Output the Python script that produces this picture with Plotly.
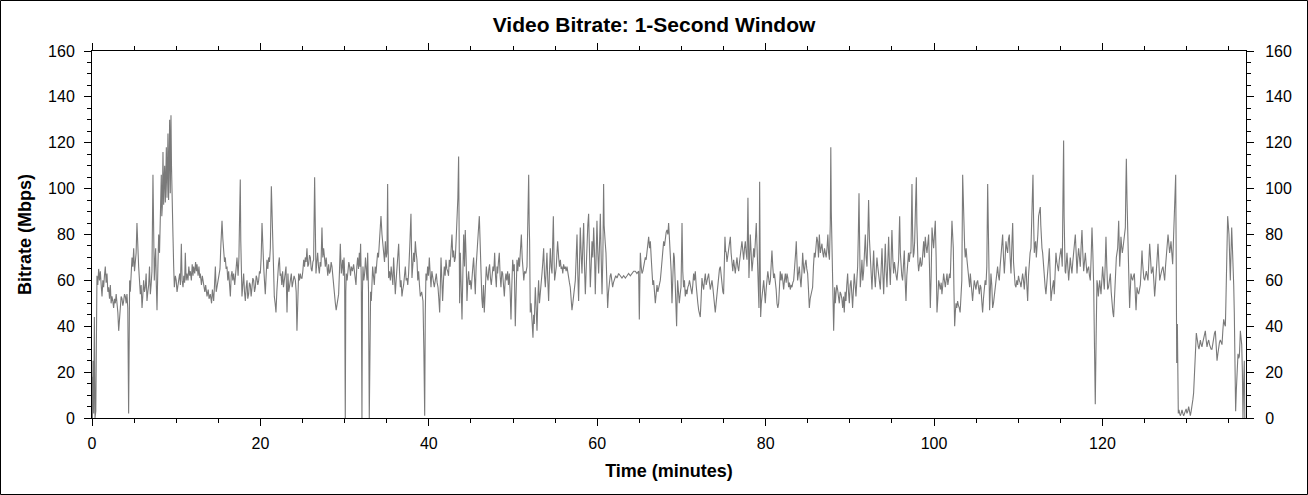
import plotly.graph_objects as go

# ---- data (minutes, Mbps) ----
time_min = [
    0.0, 0.05, 0.12, 0.2, 0.28, 0.36, 0.45, 0.52, 0.59, 0.69, 0.79, 0.89, 0.99, 1.09, 1.19, 1.29, 1.38, 1.48, 1.58, 1.68,
    1.78, 1.88, 1.98, 2.08, 2.18, 2.27, 2.37, 2.47, 2.57, 2.67, 2.77, 2.87, 2.97, 3.07, 3.17, 3.27, 3.36, 3.46, 3.56, 3.66,
    3.76, 3.86, 3.96, 4.06, 4.15, 4.25, 4.35, 4.41, 4.47, 4.55, 4.63, 4.75, 4.85, 4.95, 5.05, 5.14, 5.24, 5.34, 5.44, 5.54,
    5.64, 5.74, 5.84, 5.94, 6.03, 6.13, 6.23, 6.33, 6.43, 6.53, 6.63, 6.73, 6.83, 6.93, 7.02, 7.12, 7.24, 7.32, 7.4, 7.48,
    7.56, 7.64, 7.72, 7.82, 7.92, 8.02, 8.11, 8.17, 8.23, 8.29, 8.35, 8.43, 8.51, 8.57, 8.63, 8.71, 8.77, 8.83, 8.91, 8.96,
    9.02, 9.1, 9.16, 9.22, 9.3, 9.38, 9.44, 9.5, 9.56, 9.62, 9.7, 9.78, 9.9, 10.0, 10.1, 10.2, 10.3, 10.41, 10.5, 10.61,
    10.7, 10.81, 10.9, 11.0, 11.08, 11.18, 11.28, 11.4, 11.5, 11.6, 11.68, 11.8, 11.9, 12.0, 12.07, 12.2, 12.3, 12.4, 12.47, 12.6,
    12.7, 12.8, 12.86, 13.0, 13.1, 13.26, 13.4, 13.5, 13.66, 13.8, 13.9, 14.05, 14.2, 14.3, 14.45, 14.55, 14.65, 14.75, 14.84, 14.95,
    15.04, 15.2, 15.3, 15.44, 15.54, 15.64, 15.74, 15.83, 15.93, 16.03, 16.13, 16.23, 16.33, 16.43, 16.53, 16.63, 16.72, 16.82, 16.95, 17.1,
    17.22, 17.35, 17.45, 17.52, 17.61, 17.67, 17.81, 17.91, 18.01, 18.11, 18.21, 18.31, 18.41, 18.5, 18.6, 18.7, 18.8, 18.9, 19.0, 19.1,
    19.2, 19.3, 19.4, 19.5, 19.59, 19.69, 19.79, 19.89, 19.99, 20.09, 20.19, 20.29, 20.39, 20.48, 20.58, 20.68, 20.78, 20.88, 20.98, 21.08,
    21.18, 21.3, 21.45, 21.55, 21.65, 21.75, 21.85, 21.95, 22.05, 22.15, 22.25, 22.35, 22.44, 22.54, 22.64, 22.74, 22.84, 22.94, 23.04, 23.16,
    23.27, 23.37, 23.47, 23.57, 23.67, 23.77, 23.87, 24.0, 24.15, 24.25, 24.34, 24.44, 24.54, 24.64, 24.74, 24.84, 24.94, 25.04, 25.14, 25.24,
    25.33, 25.43, 25.53, 25.63, 25.73, 25.83, 25.93, 26.03, 26.13, 26.23, 26.32, 26.44, 26.52, 26.6, 26.7, 26.8, 26.9, 27.0, 27.1, 27.19,
    27.31, 27.41, 27.51, 27.61, 27.71, 27.81, 27.91, 28.0, 28.1, 28.2, 28.3, 28.4, 28.5, 28.6, 28.7, 28.8, 28.9, 29.0, 29.09, 29.19,
    29.29, 29.39, 29.49, 29.61, 29.69, 29.77, 29.85, 29.93, 30.0, 30.08, 30.14, 30.2, 30.3, 30.4, 30.5, 30.6, 30.7, 30.8, 30.93, 31.07,
    31.2, 31.35, 31.45, 31.55, 31.65, 31.75, 31.82, 31.9, 31.98, 32.06, 32.12, 32.18, 32.28, 32.38, 32.48, 32.58, 32.66, 32.74, 32.84, 32.93,
    33.01, 33.09, 33.17, 33.25, 33.33, 33.43, 33.53, 33.63, 33.73, 33.83, 33.92, 34.02, 34.12, 34.22, 34.32, 34.44, 34.54, 34.64, 34.74, 34.84,
    34.94, 35.03, 35.11, 35.17, 35.23, 35.33, 35.43, 35.53, 35.63, 35.73, 35.82, 35.92, 36.02, 36.12, 36.22, 36.32, 36.42, 36.52, 36.62, 36.71,
    36.81, 36.91, 37.01, 37.11, 37.21, 37.31, 37.41, 37.5, 37.6, 37.74, 37.88, 38.0, 38.1, 38.2, 38.3, 38.4, 38.5, 38.59, 38.69, 38.79,
    38.89, 38.99, 39.15, 39.31, 39.41, 39.51, 39.58, 39.66, 39.76, 39.86, 39.96, 40.06, 40.16, 40.26, 40.36, 40.46, 40.56, 40.65, 40.77, 40.89,
    40.99, 41.09, 41.19, 41.29, 41.37, 41.45, 41.55, 41.64, 41.74, 41.84, 41.94, 42.04, 42.14, 42.24, 42.34, 42.43, 42.53, 42.63, 42.75, 42.85,
    42.95, 43.05, 43.15, 43.25, 43.35, 43.45, 43.54, 43.6, 43.66, 43.74, 43.82, 43.94, 44.04, 44.14, 44.24, 44.33, 44.43, 44.53, 44.63, 44.73,
    44.83, 44.93, 45.03, 45.13, 45.23, 45.32, 45.42, 45.52, 45.62, 45.72, 45.86, 46.0, 46.1, 46.2, 46.3, 46.39, 46.49, 46.59, 46.71, 46.83,
    46.93, 47.03, 47.13, 47.22, 47.32, 47.42, 47.52, 47.62, 47.72, 47.82, 47.92, 48.02, 48.1, 48.17, 48.27, 48.37, 48.47, 48.57, 48.67, 48.77,
    48.87, 48.97, 49.07, 49.16, 49.26, 49.36, 49.46, 49.56, 49.66, 49.76, 49.86, 49.96, 50.06, 50.15, 50.27, 50.37, 50.47, 50.57, 50.67, 50.77,
    50.87, 50.99, 51.09, 51.18, 51.28, 51.38, 51.52, 51.66, 51.76, 51.86, 51.92, 51.97, 52.05, 52.15, 52.25, 52.37, 52.45, 52.53, 52.59, 52.65,
    52.75, 52.85, 52.95, 53.04, 53.14, 53.24, 53.34, 53.44, 53.54, 53.64, 53.74, 53.84, 53.94, 54.03, 54.13, 54.23, 54.33, 54.43, 54.53, 54.63,
    54.71, 54.79, 54.87, 54.94, 55.04, 55.14, 55.22, 55.3, 55.42, 55.52, 55.62, 55.72, 55.81, 55.91, 56.01, 56.11, 56.21, 56.31, 56.41, 56.51,
    56.61, 56.7, 56.8, 56.9, 57.0, 57.1, 57.2, 57.3, 57.4, 57.5, 57.6, 57.7, 57.79, 57.89, 57.99, 58.09, 58.19, 58.29, 58.39, 58.49,
    58.59, 58.69, 58.78, 58.88, 58.98, 59.08, 59.18, 59.28, 59.38, 59.48, 59.58, 59.68, 59.77, 59.87, 59.97, 60.07, 60.17, 60.27, 60.37, 60.47,
    60.57, 60.67, 60.76, 60.82, 60.88, 60.96, 61.04, 61.14, 61.24, 61.34, 61.44, 61.54, 61.63, 61.73, 61.83, 61.93, 62.03, 62.2, 62.35, 62.45,
    62.54, 62.74, 62.94, 63.14, 63.34, 63.54, 63.73, 63.93, 64.13, 64.33, 64.52, 64.72, 64.92, 65.0, 65.06, 65.12, 65.22, 65.32, 65.42, 65.51,
    65.61, 65.71, 65.81, 65.91, 66.01, 66.11, 66.21, 66.31, 66.41, 66.5, 66.6, 66.7, 66.8, 66.9, 67.0, 67.1, 67.2, 67.3, 67.4, 67.49,
    67.59, 67.69, 67.79, 67.89, 67.99, 68.09, 68.19, 68.29, 68.39, 68.48, 68.58, 68.68, 68.78, 68.88, 68.98, 69.08, 69.16, 69.24, 69.31, 69.37,
    69.43, 69.49, 69.55, 69.65, 69.75, 69.85, 69.95, 70.01, 70.07, 70.16, 70.26, 70.36, 70.46, 70.56, 70.66, 70.76, 70.86, 70.96, 71.06, 71.16,
    71.25, 71.35, 71.45, 71.55, 71.65, 71.75, 71.85, 71.95, 72.05, 72.15, 72.24, 72.34, 72.44, 72.54, 72.64, 72.74, 72.84, 72.94, 73.03, 73.13,
    73.23, 73.33, 73.43, 73.53, 73.63, 73.73, 73.83, 73.93, 74.02, 74.12, 74.22, 74.32, 74.42, 74.52, 74.62, 74.72, 74.82, 74.92, 75.01, 75.09,
    75.17, 75.25, 75.33, 75.41, 75.49, 75.57, 75.65, 75.73, 75.81, 75.9, 76.0, 76.1, 76.2, 76.3, 76.4, 76.5, 76.6, 76.7, 76.8, 76.9,
    76.99, 77.09, 77.19, 77.29, 77.39, 77.49, 77.59, 77.69, 77.79, 77.85, 77.9, 77.96, 78.02, 78.1, 78.18, 78.28, 78.38, 78.48, 78.58, 78.68,
    78.77, 78.83, 78.89, 78.97, 79.05, 79.13, 79.21, 79.25, 79.29, 79.35, 79.41, 79.49, 79.57, 79.67, 79.77, 79.87, 79.96, 80.06, 80.16, 80.26,
    80.36, 80.46, 80.56, 80.66, 80.75, 80.85, 80.95, 81.05, 81.15, 81.25, 81.35, 81.45, 81.55, 81.65, 81.74, 81.84, 81.94, 82.04, 82.14, 82.24,
    82.34, 82.44, 82.54, 82.64, 82.73, 82.83, 82.93, 83.03, 83.13, 83.23, 83.33, 83.43, 83.53, 83.58, 83.64, 83.72, 83.8, 83.9, 84.0, 84.1,
    84.2, 84.3, 84.4, 84.5, 84.59, 84.69, 84.79, 84.89, 84.99, 85.09, 85.19, 85.29, 85.39, 85.49, 85.58, 85.68, 85.78, 85.88, 85.98, 86.08,
    86.18, 86.28, 86.38, 86.5, 86.59, 86.69, 86.79, 86.89, 86.99, 87.09, 87.19, 87.29, 87.39, 87.48, 87.58, 87.68, 87.74, 87.8, 87.88, 87.96,
    88.08, 88.2, 88.28, 88.35, 88.45, 88.55, 88.65, 88.75, 88.85, 88.95, 89.05, 89.15, 89.25, 89.34, 89.44, 89.54, 89.64, 89.74, 89.84, 89.94,
    90.04, 90.14, 90.24, 90.33, 90.43, 90.53, 90.63, 90.73, 90.83, 90.93, 91.01, 91.09, 91.17, 91.24, 91.34, 91.44, 91.54, 91.64, 91.74, 91.84,
    91.94, 92.04, 92.14, 92.23, 92.33, 92.43, 92.53, 92.63, 92.73, 92.83, 92.93, 93.03, 93.13, 93.22, 93.32, 93.42, 93.52, 93.62, 93.72, 93.82,
    93.92, 94.02, 94.12, 94.21, 94.31, 94.41, 94.51, 94.61, 94.71, 94.81, 94.91, 95.0, 95.1, 95.2, 95.3, 95.4, 95.5, 95.6, 95.7, 95.8,
    95.86, 95.92, 96.0, 96.07, 96.17, 96.27, 96.37, 96.47, 96.57, 96.67, 96.77, 96.87, 96.97, 97.06, 97.16, 97.26, 97.32, 97.38, 97.46, 97.54,
    97.62, 97.7, 97.8, 97.9, 97.96, 98.01, 98.09, 98.17, 98.27, 98.37, 98.47, 98.57, 98.67, 98.77, 98.87, 98.96, 99.06, 99.16, 99.26, 99.36,
    99.46, 99.56, 99.66, 99.76, 99.86, 99.95, 100.05, 100.15, 100.25, 100.35, 100.45, 100.55, 100.65, 100.75, 100.85, 100.94, 101.04, 101.14, 101.24, 101.34,
    101.44, 101.54, 101.64, 101.74, 101.84, 101.93, 102.03, 102.13, 102.21, 102.29, 102.37, 102.45, 102.53, 102.61, 102.7, 102.8, 102.9, 103.0,
    103.1, 103.2, 103.3, 103.4, 103.48, 103.56, 103.64, 103.71, 103.81, 103.91, 104.01, 104.11, 104.17, 104.23, 104.31, 104.39, 104.48, 104.58, 104.68, 104.78,
    104.88, 104.98, 105.08, 105.18, 105.28, 105.38, 105.48, 105.57, 105.67, 105.77, 105.87, 105.97, 106.07, 106.17, 106.27, 106.37, 106.49, 106.6, 106.68, 106.76,
    106.86, 106.96, 107.06, 107.16, 107.26, 107.36, 107.46, 107.55, 107.65, 107.75, 107.85, 107.95, 108.05, 108.15, 108.25, 108.35, 108.45, 108.54, 108.64, 108.74,
    108.84, 108.94, 109.04, 109.14, 109.24, 109.34, 109.44, 109.53, 109.63, 109.73, 109.83, 109.93, 110.03, 110.13, 110.23, 110.33, 110.43, 110.52, 110.62, 110.72,
    110.82, 110.92, 111.02, 111.12, 111.22, 111.31, 111.41, 111.51, 111.63, 111.75, 111.83, 111.91, 111.99, 112.07, 112.15, 112.23, 112.33, 112.42, 112.52, 112.62,
    112.68, 112.74, 112.82, 112.9, 113.0, 113.1, 113.2, 113.29, 113.39, 113.49, 113.59, 113.69, 113.79, 113.89, 113.99, 114.09, 114.19, 114.28, 114.38, 114.48,
    114.58, 114.68, 114.78, 114.88, 114.98, 115.08, 115.16, 115.23, 115.31, 115.39, 115.45, 115.51, 115.57, 115.63, 115.71, 115.79, 115.89, 115.99, 116.09, 116.18,
    116.28, 116.38, 116.48, 116.58, 116.68, 116.78, 116.88, 116.98, 117.08, 117.17, 117.27, 117.37, 117.47, 117.57, 117.67, 117.77, 117.87, 117.97, 118.07, 118.16,
    118.26, 118.36, 118.46, 118.56, 118.66, 118.76, 118.86, 118.96, 119.06, 119.15, 119.25, 119.35, 119.43, 119.51, 119.59, 119.67, 119.75, 119.83, 119.93, 120.02,
    120.12, 120.22, 120.32, 120.42, 120.52, 120.62, 120.72, 120.82, 120.94, 121.04, 121.14, 121.24, 121.33, 121.43, 121.53, 121.59, 121.65, 121.73, 121.81, 121.87,
    121.93, 121.99, 122.05, 122.13, 122.2, 122.28, 122.36, 122.44, 122.52, 122.62, 122.72, 122.78, 122.84, 122.92, 123.0, 123.06, 123.11, 123.17, 123.23, 123.31,
    123.39, 123.49, 123.59, 123.69, 123.79, 123.89, 123.99, 124.05, 124.1, 124.2, 124.3, 124.4, 124.5, 124.6, 124.7, 124.76, 124.82, 124.92, 125.02, 125.12,
    125.21, 125.31, 125.41, 125.51, 125.61, 125.71, 125.81, 125.91, 126.0, 126.1, 126.2, 126.3, 126.4, 126.5, 126.6, 126.7, 126.8, 126.9, 126.99, 127.09,
    127.19, 127.29, 127.39, 127.49, 127.59, 127.69, 127.79, 127.89, 127.98, 128.06, 128.14, 128.24, 128.34, 128.44, 128.54, 128.62, 128.7, 128.76, 128.82, 128.86,
    128.9, 128.96, 129.01, 129.05, 129.09, 129.17, 129.25, 129.35, 129.45, 129.55, 129.65, 129.75, 129.84, 129.94, 130.04, 130.14, 130.24, 130.34, 130.44, 130.54,
    130.64, 130.74, 130.83, 130.91, 130.99, 131.07, 131.15, 131.23, 131.31, 131.39, 131.47, 131.55, 131.63, 131.73, 131.82, 131.92, 132.02, 132.12, 132.22, 132.32,
    132.42, 132.52, 132.62, 132.72, 132.81, 132.91, 133.01, 133.11, 133.21, 133.31, 133.41, 133.51, 133.61, 133.71, 133.8, 133.9, 134.0, 134.1, 134.2, 134.3,
    134.4, 134.5, 134.6, 134.66, 134.71, 134.79, 134.87, 134.95, 135.03, 135.11, 135.19, 135.27, 135.35, 135.43, 135.51, 135.59, 135.66, 135.74, 135.82, 135.9,
    135.98, 136.04, 136.1, 136.18, 136.26, 136.32, 136.38, 136.46, 136.54, 136.62, 136.69, 136.77, 136.85, 136.91, 136.97, 137.02,
]

bitrate_mbps = [
    18, 0, 25, 2, 44, 0, 3, 58, 62, 58, 65, 60, 64, 58, 53, 60, 57, 62, 66, 59,
    63, 55, 57, 52, 58, 50, 53, 51, 48, 52, 50, 54, 50, 46, 38, 44, 48, 53, 52, 49,
    51, 54, 53, 50, 54, 48, 2, 40, 60, 55, 61, 70, 66, 74, 64, 69, 72, 85, 72, 66,
    60, 54, 58, 48, 53, 60, 55, 57, 63, 51, 55, 58, 66, 54, 58, 64, 106, 70, 60, 68,
    74, 58, 47, 65, 80, 72, 83, 90, 106, 88, 92, 116, 93, 104, 110, 94, 112, 118, 96, 108,
    124, 95, 112, 130, 98, 132, 110, 103, 90, 79, 66, 57, 62, 60, 55, 58, 62, 63, 58, 76,
    60, 57, 62, 59, 72, 60, 63, 60, 66, 62, 64, 60, 67, 62, 66, 63, 68, 64, 67, 62,
    66, 61, 63, 58, 62, 57, 55, 58, 53, 56, 52, 54, 50, 56, 51, 58, 66, 55, 57, 60,
    63, 65, 75, 86, 78, 74, 68, 70, 65, 66, 60, 64, 58, 53, 62, 64, 60, 63, 58, 66,
    70, 62, 70, 86, 104, 77, 53, 58, 63, 55, 51, 57, 60, 52, 54, 59, 58, 53, 56, 61,
    60, 55, 57, 62, 61, 58, 60, 64, 63, 70, 85, 72, 66, 60, 54, 62, 69, 65, 70, 68,
    74, 101, 80, 62, 53, 50, 46, 55, 63, 67, 70, 62, 63, 58, 64, 57, 60, 63, 66, 46,
    63, 55, 58, 61, 63, 57, 60, 62, 60, 55, 38, 55, 63, 60, 63, 61, 61, 64, 69, 66,
    70, 68, 74, 66, 67, 71, 70, 65, 64, 68, 69, 105, 75, 63, 68, 72, 66, 63, 68, 66,
    83, 70, 74, 68, 66, 70, 66, 62, 67, 63, 64, 68, 66, 61, 57, 53, 50, 47, 50, 52,
    54, 64, 76, 63, 67, 69, 62, 70, 64, 0, 55, 63, 60, 63, 68, 66, 62, 66, 64, 67,
    62, 58, 66, 70, 65, 72, 66, 76, 60, 0, 55, 66, 60, 63, 70, 66, 60, 72, 55, 0,
    46, 55, 51, 60, 66, 62, 58, 66, 63, 68, 72, 70, 77, 82, 88, 80, 75, 72, 68, 77,
    70, 72, 102, 74, 61, 64, 60, 66, 63, 58, 70, 62, 54, 60, 66, 70, 76, 64, 57, 60,
    53, 56, 58, 62, 66, 60, 61, 58, 63, 75, 89, 61, 66, 72, 68, 77, 72, 69, 60, 64,
    58, 53, 55, 51, 30, 1, 45, 63, 60, 66, 62, 70, 63, 57, 64, 61, 58, 57, 60, 63,
    59, 57, 52, 46, 58, 70, 60, 51, 60, 66, 62, 69, 65, 64, 62, 69, 66, 72, 80, 70,
    73, 68, 70, 78, 86, 96, 114, 70, 50, 72, 63, 43, 62, 80, 66, 82, 70, 51, 60, 64,
    58, 60, 56, 63, 66, 70, 60, 54, 66, 74, 80, 88, 72, 60, 52, 48, 58, 46, 56, 66,
    62, 60, 65, 67, 61, 58, 62, 66, 64, 72, 62, 57, 66, 63, 68, 72, 62, 57, 64, 63,
    58, 53, 60, 63, 60, 64, 58, 63, 55, 43, 58, 69, 64, 67, 40, 58, 69, 64, 70, 66,
    74, 80, 70, 66, 60, 64, 63, 66, 80, 106, 85, 77, 46, 50, 43, 35, 45, 41, 50, 57,
    48, 38, 52, 60, 50, 56, 62, 63, 68, 74, 62, 57, 65, 72, 60, 51, 64, 74, 66, 63,
    76, 88, 70, 60, 63, 66, 72, 77, 70, 66, 69, 65, 66, 63, 67, 65, 66, 64, 66, 63,
    60, 59, 57, 52, 47, 50, 54, 57, 60, 70, 80, 62, 51, 66, 83, 72, 63, 75, 85, 66,
    54, 65, 77, 84, 89, 70, 57, 66, 77, 70, 83, 72, 54, 70, 86, 72, 63, 75, 89, 70,
    54, 70, 102, 84, 77, 76, 72, 58, 48, 55, 60, 62, 63, 60, 57, 59, 60, 62, 61, 62,
    63, 62, 61, 62, 61, 62, 63, 62, 63, 64, 64, 63, 64, 43, 58, 72, 66, 63, 64, 66,
    68, 70, 69, 72, 75, 79, 74, 77, 70, 63, 58, 60, 55, 50, 54, 58, 55, 57, 59, 60,
    64, 69, 72, 77, 75, 79, 81, 82, 80, 85, 79, 74, 64, 50, 62, 72, 70, 62, 56, 48,
    40, 52, 60, 55, 50, 54, 57, 70, 85, 64, 57, 60, 53, 56, 54, 57, 58, 60, 57, 55,
    54, 58, 63, 60, 64, 58, 51, 50, 47, 45, 44, 52, 61, 58, 56, 60, 63, 58, 60, 62,
    63, 59, 56, 58, 60, 57, 54, 50, 46, 50, 54, 59, 63, 65, 66, 61, 57, 55, 54, 68,
    79, 73, 72, 68, 70, 72, 74, 77, 79, 72, 66, 64, 69, 66, 63, 67, 70, 66, 64, 68,
    72, 74, 77, 73, 69, 74, 77, 72, 69, 82, 96, 78, 61, 70, 80, 72, 64, 68, 74, 70,
    77, 82, 85, 76, 69, 58, 48, 75, 103, 70, 44, 50, 54, 58, 60, 55, 50, 56, 60, 64,
    61, 58, 60, 66, 73, 66, 61, 63, 60, 56, 50, 48, 50, 57, 64, 60, 63, 60, 56, 60,
    63, 59, 63, 61, 57, 59, 56, 58, 57, 59, 60, 65, 69, 73, 77, 68, 60, 63, 66, 61,
    57, 63, 72, 66, 63, 67, 69, 65, 63, 56, 48, 52, 54, 56, 57, 66, 72, 70, 76, 79,
    77, 70, 80, 72, 74, 76, 72, 70, 74, 72, 70, 74, 80, 72, 69, 85, 118, 90, 70, 46,
    38, 57, 50, 54, 58, 56, 52, 50, 55, 54, 52, 48, 53, 46, 55, 51, 58, 63, 55, 50,
    58, 60, 54, 48, 56, 63, 58, 53, 60, 66, 80, 98, 75, 57, 62, 69, 60, 64, 72, 80,
    70, 66, 80, 95, 78, 69, 62, 56, 65, 73, 62, 57, 64, 70, 66, 63, 60, 56, 65, 74,
    63, 54, 66, 76, 64, 57, 68, 79, 66, 58, 70, 82, 70, 63, 68, 64, 62, 60, 65, 69,
    80, 88, 72, 66, 62, 60, 66, 73, 60, 51, 62, 70, 72, 68, 72, 72, 90, 102, 80, 70,
    72, 77, 92, 105, 85, 72, 68, 64, 67, 70, 66, 67, 72, 77, 70, 79, 75, 72, 76, 80,
    66, 48, 62, 83, 78, 74, 80, 86, 70, 46, 52, 60, 58, 56, 59, 54, 58, 63, 60, 57,
    60, 63, 58, 60, 63, 61, 72, 86, 80, 74, 55, 40, 46, 50, 48, 51, 49, 48, 46, 51,
    60, 106, 90, 77, 74, 70, 74, 69, 66, 63, 60, 57, 63, 60, 55, 51, 56, 60,
    58, 56, 59, 60, 57, 54, 58, 57, 51, 46, 52, 57, 60, 58, 66, 102, 70, 47,
    55, 63, 58, 48, 50, 53, 57, 60, 64, 66, 62, 60, 66, 72, 76, 80, 70, 63, 70, 77,
    74, 72, 78, 80, 70, 63, 75, 85, 68, 60, 58, 57, 60, 58, 62, 60, 59, 57, 61, 63,
    60, 56, 62, 66, 58, 51, 62, 70, 72, 74, 86, 106, 85, 72, 76, 77, 70, 74, 80, 88,
    90, 92, 84, 77, 74, 72, 66, 60, 57, 54, 58, 63, 68, 74, 62, 51, 55, 57, 60, 54,
    62, 72, 68, 66, 64, 69, 72, 74, 70, 66, 95, 121, 88, 66, 64, 63, 68, 72, 66, 60,
    65, 70, 66, 63, 68, 72, 76, 80, 72, 63, 70, 74, 70, 66, 75, 82, 72, 64, 68, 72,
    67, 63, 65, 66, 62, 60, 70, 83, 72, 58, 30, 6, 35, 60, 58, 53, 57, 60, 57, 54,
    60, 66, 61, 56, 66, 79, 66, 56, 57, 60, 63, 55, 48, 46, 44, 55, 64, 68, 70, 72,
    74, 80, 86, 76, 66, 72, 79, 75, 72, 74, 77, 80, 83, 100, 113, 95, 77, 70, 66, 56,
    48, 55, 63, 61, 60, 62, 63, 55, 47, 52, 57, 55, 54, 56, 58, 65, 73, 68, 63, 61,
    60, 62, 64, 62, 60, 68, 76, 70, 63, 64, 66, 60, 53, 58, 63, 70, 76, 68, 60, 62,
    64, 65, 66, 63, 60, 66, 72, 76, 80, 76, 72, 74, 77, 72, 67, 78, 89, 98, 106, 70,
    24, 35, 41, 20, 2, 3, 3.5, 2, 1, 2, 3.5, 2, 1, 2, 3, 4, 2, 3, 5, 3,
    1, 3, 5, 8, 11, 18, 25, 32, 37, 35, 32, 31, 30, 33, 34, 32, 31, 33, 35, 37,
    38, 34, 31, 33, 34, 32, 31, 30, 30, 33, 35, 37, 38, 31, 25, 28, 31, 33, 34, 33,
    32, 38, 43, 41, 40, 50, 63, 75, 88, 84, 80, 70, 60, 72, 83, 75, 69, 58, 46, 20,
    3, 12, 22, 25, 28, 26, 27, 32, 38, 35, 32, 20, 0, 15, 25, 0,
]

# tick positions / labels
x_ticks = [0, 20, 40, 60, 80, 100, 120]
y_ticks = [0, 20, 40, 60, 80, 100, 120, 140, 160]

FONT = "Liberation Sans, Arial, sans-serif"
W, H = 1308, 495
ML, MR, MT, MB = 92, 62, 51, 77
PW, PH = W - ML - MR, H - MT - MB

fig = go.Figure()
fig.add_trace(go.Scatter(
    x=time_min, y=bitrate_mbps, mode="lines",
    line=dict(color="#7a7a7a", width=1.1),
    showlegend=False, hoverinfo="skip",
))
# invisible companion trace so the right-hand axis is drawn
fig.add_trace(go.Scatter(
    x=time_min[:1], y=bitrate_mbps[:1], mode="lines", yaxis="y2",
    line=dict(color="rgba(0,0,0,0)", width=0),
    showlegend=False, hoverinfo="skip",
))

axis_common = dict(
    showgrid=False, zeroline=False, showline=True, linecolor="black", linewidth=1,
    ticks="outside", ticklen=7, tickwidth=1, tickcolor="black",
    tickfont=dict(family=FONT, size=16, color="black"),
)

fig.update_layout(
    width=W, height=H, autosize=False,
    margin=dict(l=ML, r=MR, t=MT, b=MB, pad=0),
    paper_bgcolor="white", plot_bgcolor="white",
    title=dict(
        text="<b>Video Bitrate: 1-Second Window</b>",
        font=dict(family=FONT, size=21, color="black"),
        x=0.5, xref="container", xanchor="center",
        y=1 - 25 / H, yref="container", yanchor="middle",
    ),
    xaxis=dict(
        **axis_common,
        range=[0, 137.05], tickvals=x_ticks, ticktext=[str(v) for v in x_ticks],
        mirror="ticks", ticklabelstandoff=4,
        minor=dict(dtick=5, tick0=0, ticks="outside", ticklen=4, tickcolor="black", tickwidth=1),
        title=dict(text="<b>Time (minutes)</b>", font=dict(family=FONT, size=18, color="black"), standoff=13),
    ),
    yaxis=dict(
        **axis_common,
        range=[0, 160], tickvals=y_ticks, ticktext=[str(v) for v in y_ticks],
        ticklabelstandoff=6,
        minor=dict(dtick=5, tick0=0, ticks="outside", ticklen=4, tickcolor="black", tickwidth=1),
        title=dict(text="<b>Bitrate (Mbps)</b>", font=dict(family=FONT, size=18, color="black"), standoff=11),
    ),
    yaxis2=dict(
        **axis_common,
        range=[0, 160], tickvals=y_ticks, ticktext=[str(v) for v in y_ticks],
        overlaying="y", side="right", ticklabelstandoff=8,
        minor=dict(dtick=5, tick0=0, ticks="outside", ticklen=4, tickcolor="black", tickwidth=1),
    ),
    shapes=[dict(
        type="rect", xref="paper", yref="paper",
        x0=(0.5 - ML) / PW, x1=(W - 0.5 - ML) / PW,
        y0=(0.5 - MB) / PH, y1=(H - 0.5 - MB) / PH,
        line=dict(color="black", width=1), fillcolor="rgba(0,0,0,0)", layer="above",
    )],
)

fig.write_html(
    "out.html",
    config={"displayModeBar": False},
    post_script="document.body.style.margin='0';document.body.style.overflow='hidden';",
)
